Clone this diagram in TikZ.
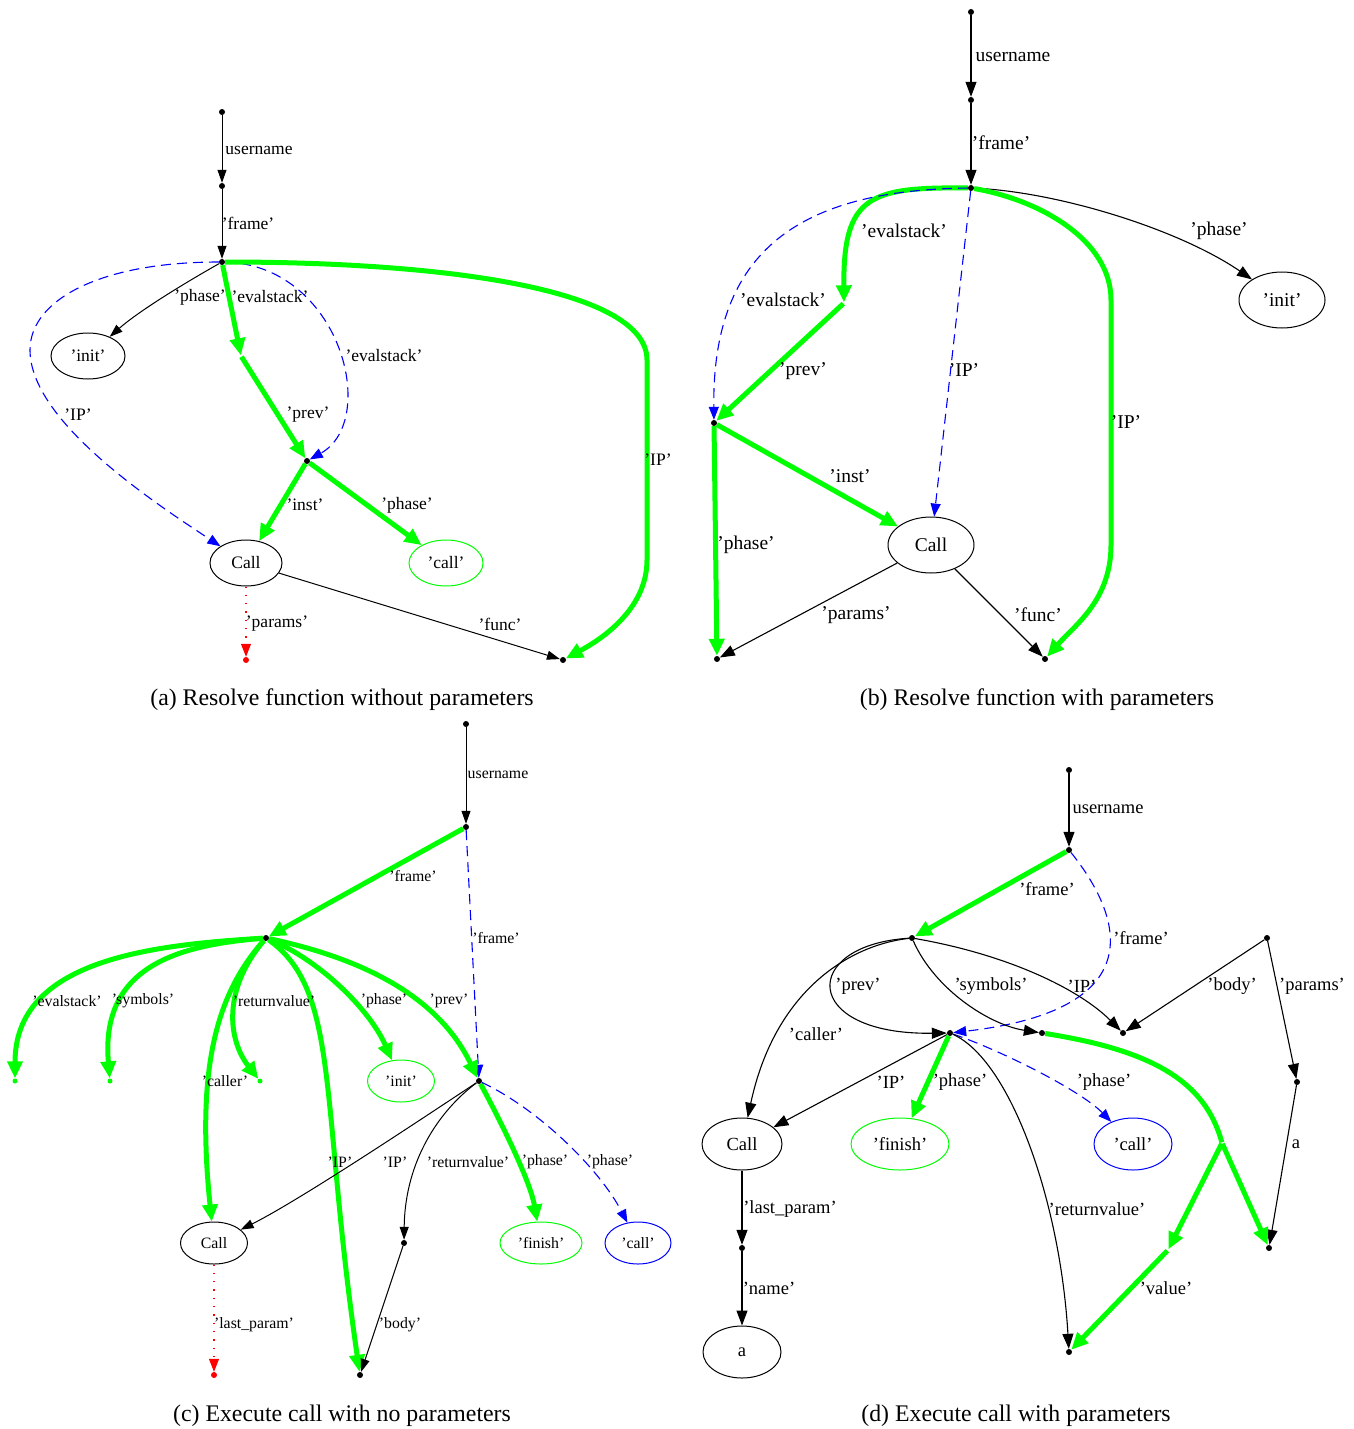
\documentclass[tikz,border=0pt]{standalone}
\usepackage{fontspec}
\setmainfont{Liberation Serif}
\usetikzlibrary{arrows.meta,shapes.geometric}
\definecolor{gr}{RGB}{0,255,0}
\newcommand\fsA{\fontsize{17.5}{18}\selectfont}
\newcommand\fsB{\fontsize{19.5}{20}\selectfont}
\newcommand\fsC{\fontsize{15.8}{16}\selectfont}
\newcommand\fsD{\fontsize{18.5}{19}\selectfont}
\newcommand\fsCap{\fontsize{23.8}{24}\selectfont}
\pgfdeclarelayer{edges}
\pgfsetlayers{edges,main}
\tikzset{
  dot/.style={circle,fill=black,inner sep=0pt,minimum size=6pt},
  gdot/.style={circle,fill=gr,inner sep=0pt,minimum size=5pt},
  rdot/.style={circle,fill=red,inner sep=0pt,minimum size=6pt},
  hid/.style={inner sep=0pt,minimum size=1pt},
  obj/.style={ellipse,draw,line width=1pt,inner sep=0pt},
  lbl/.style={inner sep=0pt},
  captxt/.style={inner sep=0pt,font=\fsCap},
  blk/.style={line width=1pt,-{Triangle[length=13pt,width=9pt]}},
  blkL/.style={line width=1.1pt,-{Triangle[length=15pt,width=11pt]}},
  grn/.style={draw=gr,line width=5pt,-{Triangle[length=17pt,width=15pt]}},
  grnline/.style={draw=gr,line width=5pt},
  blu/.style={draw=blue,line width=1.1pt,dash pattern=on 10pt off 6pt,-{Triangle[length=13pt,width=10pt,fill=blue]}},
  redd/.style={draw=red,line width=1.2pt,dash pattern=on 1.3pt off 7pt,-{Triangle[length=13pt,width=10pt,fill=red]}}
}
\begin{document}
\begin{tikzpicture}[x=1pt,y=-1pt]
\useasboundingbox (0,0) rectangle (1353,1429);

% ---------------- (a) Resolve function without parameters
\begin{scope}[every node/.append style={font=\fsA}]
\node[dot] (a0) at (222,112) {};
\node[dot] (a1) at (222,186) {};
\node[dot] (aF) at (222,262) {};
\node[obj,minimum width=74pt,minimum height=46pt] (aInit) at (88,356) {'init'};
\node[hid] (aJ) at (241,356) {};
\node[dot] (aP) at (307,461) {};
\node[obj,minimum width=72pt,minimum height=46pt] (aCall) at (246,563) {Call};
\node[obj,draw=gr,minimum width=74pt,minimum height=46pt] (aCs) at (446,563) {'call'};
\node[rdot] (aR) at (246,660) {};
\node[dot] (aE) at (563,660) {};
\node[lbl] (la1) at (259,150) {username};
\node[lbl] (la2) at (248,223) {'frame'};
\node[lbl] (la3) at (200,297) {'phase'};
\node[lbl] (la4) at (270,297) {'evalstack'};
\node[lbl] (la5) at (384,356) {'evalstack'};
\node[lbl] (la6) at (78,415) {'IP'};
\node[lbl] (la7) at (308,415) {'prev'};
\node[lbl] (la8) at (658,460) {'IP'};
\node[lbl] (la9) at (305,505) {'inst'};
\node[lbl] (la10) at (407,505) {'phase'};
\node[lbl] (la11) at (277,624) {'params'};
\node[lbl] (la12) at (500,624) {'func'};
\end{scope}
\node[captxt] (capa) at (342,700) {(a) Resolve function without parameters};

\begin{pgfonlayer}{edges}
\draw[blk] (a0) -- (a1);
\draw[blk] (a1) -- (aF);
\draw[blk] (aF) .. controls (190,280) and (140,310) .. (aInit);
\draw[grn] (aF) -- (aJ);
\draw[grn] (aJ) -- (aP);
\draw[blu] (aF) .. controls (340,265) and (380,420) .. (aP);
\draw[blu] (aF) .. controls (100,262) and (30,300) .. (30,350) .. controls (30,420) and (150,500) .. (aCall);
\draw[grn] (aP) -- (aCall);
\draw[grn] (aP) -- (aCs);
\draw[redd] (aCall) -- (aR);
\draw[blk] (aCall) -- (aE);
\draw[grn] (aF) .. controls (450,262) and (647,290) .. (647,360) -- (647,560) .. controls (647,610) and (600,640) .. (aE);
\end{pgfonlayer}

% ---------------- (b) Resolve function with parameters
\begin{scope}[every node/.append style={font=\fsB}]
\node[dot] (b0) at (971,12) {};
\node[dot] (b1) at (971,100) {};
\node[dot] (bF) at (971,188) {};
\node[obj,minimum width=86pt,minimum height=56pt] (bInit) at (1282,300) {'init'};
\node[hid] (bJ) at (844,303) {};
\node[dot] (bQ) at (714,423) {};
\node[obj,minimum width=86pt,minimum height=56pt] (bCall) at (931,545) {Call};
\node[dot] (bD) at (717,659) {};
\node[dot] (bE) at (1045,659) {};
\node[lbl] (lb1) at (1013,57) {username};
\node[lbl] (lb2) at (1001,143) {'frame'};
\node[lbl] (lb3) at (904,231) {'evalstack'};
\node[lbl] (lb4) at (1219,231) {'phase'};
\node[lbl] (lb5) at (783,300) {'evalstack'};
\node[lbl] (lb6) at (803,371) {'prev'};
\node[lbl] (lb7) at (964,370) {'IP'};
\node[lbl] (lb8) at (1126,422) {'IP'};
\node[lbl] (lb9) at (850,476) {'inst'};
\node[lbl] (lb10) at (746,545) {'phase'};
\node[lbl] (lb11) at (856,615) {'params'};
\node[lbl] (lb12) at (1038,615) {'func'};
\end{scope}
\node[captxt] (capb) at (1037,700) {(b) Resolve function with parameters};

\begin{pgfonlayer}{edges}
\draw[blkL] (b0) -- (b1);
\draw[blkL] (b1) -- (bF);
\draw[blkL] (bF) .. controls (1060,192) and (1180,230) .. (bInit);
\draw[grn] (bF) .. controls (870,187) and (843,195) .. (bJ);
\draw[grn] (bJ) -- (bQ);
\draw[blu] (bF) .. controls (800,190) and (712,250) .. (bQ);
\draw[blu] (bF) -- (bCall);
\draw[grn] (bQ) -- (bCall);
\draw[grn] (bQ) -- (bD);
\draw[blkL] (bCall) -- (bD);
\draw[blkL] (bCall) -- (bE);
\draw[grn] (bF) .. controls (1040,200) and (1111,240) .. (1111,300) -- (1111,545) .. controls (1111,600) and (1075,625) .. (bE);
\end{pgfonlayer}

% ---------------- (c) Execute call with no parameters
\begin{scope}[every node/.append style={font=\fsC}]
\node[dot] (c0) at (466,724) {};
\node[dot] (cU) at (466,827) {};
\node[dot] (cF) at (266,938) {};
\node[gdot] (cEv) at (15,1081) {};
\node[gdot] (cSy) at (110,1081) {};
\node[gdot] (cRv) at (260,1081) {};
\node[obj,draw=gr,minimum width=67pt,minimum height=42pt] (cInit) at (401,1081) {'init'};
\node[dot] (cP) at (479,1081) {};
\node[obj,minimum width=67pt,minimum height=42pt] (cCall) at (214,1243) {Call};
\node[dot] (cB) at (404,1243) {};
\node[obj,draw=gr,minimum width=82pt,minimum height=42pt] (cFin) at (541,1243) {'finish'};
\node[obj,draw=blue,minimum width=66pt,minimum height=42pt] (cCl) at (638,1243) {'call'};
\node[rdot] (cR) at (214,1375) {};
\node[dot] (cE) at (360,1375) {};
\node[lbl] (lc1) at (498,775) {username};
\node[lbl] (lc2) at (413,876) {'frame'};
\node[lbl] (lc3) at (496,938) {'frame'};
\node[lbl] (lc4) at (67,1001) {'evalstack'};
\node[lbl] (lc5) at (143,1001) {'symbols'};
\node[lbl] (lc6) at (274,1001) {'returnvalue'};
\node[lbl] (lc7) at (384,1001) {'phase'};
\node[lbl] (lc8) at (449,1001) {'prev'};
\node[lbl] (lc9) at (225,1081) {'caller'};
\node[lbl] (lc10) at (340,1162) {'IP'};
\node[lbl] (lc11) at (395,1162) {'IP'};
\node[lbl] (lc12) at (468,1162) {'returnvalue'};
\node[lbl] (lc13) at (545,1162) {'phase'};
\node[lbl] (lc14) at (610,1162) {'phase'};
\node[lbl] (lc15) at (254,1325) {'last\_param'};
\node[lbl] (lc16) at (400,1325) {'body'};
\end{scope}
\node[captxt] (capc) at (342,1416) {(c) Execute call with no parameters};

\begin{pgfonlayer}{edges}
\draw[blk] (c0) -- (cU);
\draw[grn] (cU) -- (cF);
\draw[blu] (cU) -- (cP);
\draw[grn] (cF) .. controls (150,945) and (15,960) .. (cEv);
\draw[grn] (cF) .. controls (180,945) and (100,965) .. (cSy);
\draw[grn] (cF) .. controls (222,990) and (228,1040) .. (cRv);
\draw[grn] (cF) .. controls (220,990) and (195,1060) .. (cCall);
\draw[grn] (cF) .. controls (340,990) and (320,1100) .. (cE);
\draw[grn] (cF) .. controls (320,960) and (370,1010) .. (cInit);
\draw[grn] (cF) .. controls (370,960) and (440,1000) .. (cP);
\draw[grn] (cP) .. controls (500,1120) and (530,1180) .. (cFin);
\draw[blu] (cP) .. controls (540,1110) and (600,1170) .. (cCl);
\draw[blk] (cP) .. controls (420,1120) and (300,1200) .. (cCall);
\draw[blk] (cP) .. controls (440,1110) and (405,1160) .. (cB);
\draw[blk] (cB) -- (cE);
\draw[redd] (cCall) -- (cR);
\end{pgfonlayer}

% ---------------- (d) Execute call with parameters
\begin{scope}[every node/.append style={font=\fsD}]
\node[dot] (d0) at (1069,770) {};
\node[dot] (dU) at (1069,850) {};
\node[dot] (dF) at (912,938) {};
\node[dot] (dT) at (1267,938) {};
\node[dot] (dP) at (950,1033) {};
\node[dot] (dS) at (1042,1033) {};
\node[dot] (dB) at (1123,1033) {};
\node[dot] (dM) at (1297,1082) {};
\node[obj,minimum width=80pt,minimum height=52pt] (dCall) at (742,1144) {Call};
\node[obj,draw=gr,minimum width=98pt,minimum height=52pt] (dFin) at (900,1144) {'finish'};
\node[obj,draw=blue,minimum width=78pt,minimum height=52pt] (dCl) at (1133,1144) {'call'};
\node[hid] (dX) at (1222,1143) {};
\node[dot] (dL) at (742,1248) {};
\node[hid] (dY) at (1168,1250) {};
\node[dot] (dA) at (1269,1248) {};
\node[obj,minimum width=78pt,minimum height=52pt] (da) at (742,1352) {a};
\node[dot] (dR) at (1069,1352) {};
\node[lbl] (ld1) at (1108,809) {username};
\node[lbl] (ld2) at (1047,889) {'frame'};
\node[lbl] (ld3) at (1141,938) {'frame'};
\node[lbl] (ld4) at (858,986) {'prev'};
\node[lbl] (ld5) at (991,986) {'symbols'};
\node[lbl] (ld6) at (1082,986) {'IP'};
\node[lbl] (ld7) at (1232,986) {'body'};
\node[lbl] (ld8) at (1312,986) {'params'};
\node[lbl] (ld9) at (816,1034) {'caller'};
\node[lbl] (ld10) at (891,1082) {'IP'};
\node[lbl] (ld11) at (960,1082) {'phase'};
\node[lbl] (ld12) at (1104,1082) {'phase'};
\node[lbl] (ld13) at (1296,1144) {a};
\node[lbl] (ld14) at (790,1209) {'last\_param'};
\node[lbl] (ld15) at (1097,1209) {'returnvalue'};
\node[lbl] (ld16) at (769,1288) {'name'};
\node[lbl] (ld17) at (1166,1288) {'value'};
\end{scope}
\node[captxt] (capd) at (1016,1416) {(d) Execute call with parameters};

\begin{pgfonlayer}{edges}
\draw[blkL] (d0) -- (dU);
\draw[grn] (dU) -- (dF);
\draw[blu] (dU) .. controls (1125,920) and (1150,1010) .. (dP);
\draw[blkL] (dF) .. controls (850,945) and (775,990) .. (dCall);
\draw[blkL] (dF) .. controls (800,945) and (800,1035) .. (dP);
\draw[blkL] (dF) .. controls (935,990) and (990,1025) .. (dS);
\draw[blkL] (dF) .. controls (1010,955) and (1080,990) .. (dB);
\draw[blkL] (dT) -- (dB);
\draw[blkL] (dT) -- (dM);
\draw[blkL] (dM) -- (dA);
\draw[blkL] (dP) -- (dCall);
\draw[grn] (dP) -- (dFin);
\draw[blu] (dP) .. controls (1000,1050) and (1080,1090) .. (dCl);
\draw[blkL] (dP) .. controls (1010,1060) and (1060,1200) .. (dR);
\draw[grnline] (dS) .. controls (1150,1050) and (1205,1080) .. (dX);
\draw[grn] (dX) -- (dY);
\draw[grn] (dX) -- (dA);
\draw[grn] (dY) -- (dR);
\draw[blkL] (dCall) -- (dL);
\draw[blkL] (dL) -- (da);
\end{pgfonlayer}
\end{tikzpicture}
\end{document}
